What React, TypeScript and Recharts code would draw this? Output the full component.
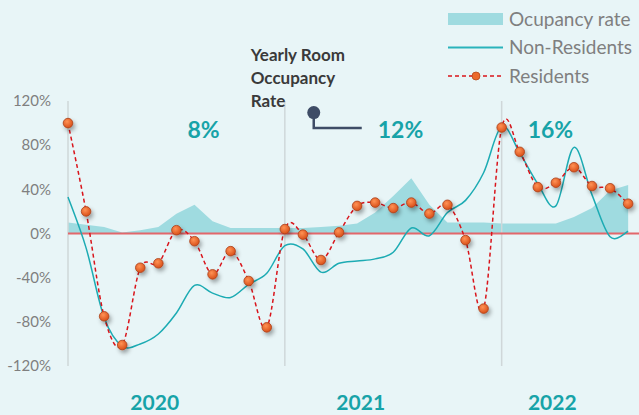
import {
  ComposedChart, Area, Line, XAxis, YAxis, ReferenceLine, ReferenceDot,
} from 'recharts'

const months = [
  'Jan 2020', 'Feb 2020', 'Mar 2020', 'Apr 2020', 'May 2020', 'Jun 2020',
  'Jul 2020', 'Aug 2020', 'Sep 2020', 'Oct 2020', 'Nov 2020', 'Dec 2020',
  'Jan 2021', 'Feb 2021', 'Mar 2021', 'Apr 2021', 'May 2021', 'Jun 2021',
  'Jul 2021', 'Aug 2021', 'Sep 2021', 'Oct 2021', 'Nov 2021', 'Dec 2021',
  'Jan 2022', 'Feb 2022', 'Mar 2022', 'Apr 2022', 'May 2022', 'Jun 2022',
  'Jul 2022', 'Aug 2022',
]

const occupancy = [
  10, 8, 6, 1, 3, 6, 18, 26, 11, 5, 5, 5,
  5, 5, 6, 7, 9, 19, 34, 50, 26, 10, 10, 10,
  9, 9, 9, 9, 15, 23, 39, 44,
]

const nonResidents = [
  33, -13, -76, -102, -100, -91, -72, -47, -54, -58, -46, -36,
  -11, -14, -35, -27, -25, -23, -17, 5, -2, 19, 30, 55,
  97, 73, 45, 25, 78, 35, -3, 2,
]

const residents = [
  100, 20, -75, -101, -31, -27, 3, -7, -37, -16, -43, -85,
  4, -1, -24, 1, 25, 28, 23, 28, 18, 26, -6, -68,
  96, 74, 42, 46, 60, 43, 41, 27,
]

const years = ['2020', '2021', '2022']
const yearStartIdx = [0, 12, 24]
const yearlyRates = ['8%', '12%', '16%']
const yTicks = [-120, -80, -40, 0, 40, 80, 120]

// layout only: where the year names and rate labels sit along the month axis
const yearLabelPos = [4.8, 16.2, 26.8]
const rateLabelPos = [7.5, 18.4, 26.7]

const data = months.map((m, i) => ({
  idx: i,
  month: m,
  occupancy: occupancy[i],
  nonResidents: nonResidents[i],
  residents: residents[i],
}))

const TEAL = '#17a3a8'
const BG = '#e8f5f7'

// smoothed line like the spreadsheet one (catmull-rom through every point)
const smooth: any = (ctx: any) => {
  let pts: number[][] = []
  return {
    areaStart() {},
    areaEnd() {},
    lineStart() { pts = [] },
    point(x: number, y: number) { pts.push([+x, +y]) },
    lineEnd() {
      const n = pts.length
      if (!n) return
      ctx.moveTo(pts[0][0], pts[0][1])
      for (let i = 0; i < n - 1; i++) {
        const p0 = pts[Math.max(i - 1, 0)]
        const p1 = pts[i]
        const p2 = pts[i + 1]
        const p3 = pts[Math.min(i + 2, n - 1)]
        ctx.bezierCurveTo(
          p1[0] + (p2[0] - p0[0]) / 6, p1[1] + (p2[1] - p0[1]) / 6,
          p2[0] - (p3[0] - p1[0]) / 6, p2[1] - (p3[1] - p1[1]) / 6,
          p2[0], p2[1],
        )
      }
    },
  }
}

function ResidentDot(props: any) {
  const { cx, cy, index } = props
  if (cx == null || cy == null) return null
  return (
    <circle
      key={index}
      cx={cx}
      cy={cy}
      r={4.8}
      fill="url(#dotFill)"
      stroke="#a9401a"
      strokeWidth={0.8}
      filter="url(#dotShadow)"
    />
  )
}

function TitleMarker(props: any) {
  const { cx, cy } = props
  const c = '#3e4c66'
  return (
    <g>
      <text x={cx - 63} fill="#3a3a3a" fontSize={17} fontWeight={700}>
        <tspan x={cx - 63} y={cy - 52}>Yearly Room</tspan>
        <tspan x={cx - 63} y={cy - 29}>Occupancy</tspan>
        <tspan x={cx - 63} y={cy - 6}>Rate</tspan>
      </text>
      <path d={`M${cx},${cy} V${cy + 15.5} H${cx + 48}`} stroke={c} strokeWidth={2.5} fill="none" />
      <circle cx={cx} cy={cy} r={6.5} fill={c} />
    </g>
  )
}

function LegendBox() {
  const text = { fill: '#7f7f7f', fontSize: 19 }
  return (
    <svg width={639} height={95} style={{ position: 'absolute', left: 0, top: 0 }}>
      <rect x={448} y={13} width={55} height={12} fill="#9fdbe0" />
      <text x={509} y={26} {...text}>Ocupancy rate</text>
      <line x1={448} x2={503} y1={47.5} y2={47.5} stroke="#2ab3bb" strokeWidth={1.8} />
      <text x={509} y={54} {...text}>Non-Residents</text>
      <line x1={448} x2={503} y1={76} y2={76} stroke="#d9141b" strokeWidth={1.5} strokeDasharray="4 3" />
      <circle cx={476} cy={76} r={4} fill="#ec6a2c" stroke="#b4471c" strokeWidth={0.8} />
      <text x={509} y={83} {...text}>Residents</text>
    </svg>
  )
}

export default function App() {
  return (
    <div
      style={{
        position: 'absolute', left: 0, top: 0, width: 639, height: 415,
        background: BG, fontFamily: 'Lato', overflow: 'hidden',
      }}
    >
      <ComposedChart
        width={639}
        height={415}
        data={data}
        margin={{ top: 101, right: 0, bottom: 0, left: 8 }}
      >
        <defs>
          <radialGradient id="dotFill" cx="40%" cy="35%" r="65%">
            <stop offset="0%" stopColor="#ff9255" />
            <stop offset="100%" stopColor="#d94f18" />
          </radialGradient>
          <filter id="dotShadow" x="-80%" y="-80%" width="300%" height="300%">
            <feDropShadow dx={2} dy={3} stdDeviation={2} floodColor="#000" floodOpacity={0.35} />
          </filter>
        </defs>

        <XAxis
          type="number"
          dataKey="idx"
          domain={[0, 31.6]}
          ticks={yearLabelPos}
          interval={0}
          tickFormatter={(v) => years[yearLabelPos.indexOf(v)] ?? ''}
          tick={{ fill: TEAL, fontSize: 21, fontWeight: 700 }}
          tickMargin={23}
          axisLine={false}
          tickLine={false}
          height={49}
        />
        <YAxis
          domain={[-120, 120]}
          ticks={yTicks}
          tickFormatter={(v) => `${v}%`}
          tick={{ fill: '#7f7f7f', fontSize: 15 }}
          tickMargin={11}
          axisLine={false}
          tickLine={false}
          width={60}
        />

        <Area
          dataKey="occupancy"
          type="linear"
          fill="#9fdbe0"
          fillOpacity={1}
          stroke="none"
          baseValue={0}
          isAnimationActive={false}
        />

        {yearStartIdx.map((x) => (
          <ReferenceLine key={x} x={x} stroke="#cfd7d9" strokeWidth={1.5} />
        ))}
        <ReferenceLine y={0} stroke="#e2676b" strokeWidth={2} />

        <Line
          dataKey="nonResidents"
          type={smooth}
          stroke="#1cabb3"
          strokeWidth={1.5}
          dot={false}
          isAnimationActive={false}
        />
        <Line
          dataKey="residents"
          type={smooth}
          stroke="#d9141b"
          strokeWidth={1.5}
          strokeDasharray="4 3"
          dot={<ResidentDot />}
          isAnimationActive={false}
        />

        {yearlyRates.map((r, i) => (
          <ReferenceDot
            key={r}
            x={rateLabelPos[i]}
            y={93.5}
            r={0}
            fill="none"
            stroke="none"
            label={{ value: r, position: 'center', fill: TEAL, fontSize: 23, fontWeight: 700 }}
          />
        ))}
        <ReferenceDot x={13.6} y={109.5} shape={<TitleMarker />} />
      </ComposedChart>
      <LegendBox />
    </div>
  )
}
